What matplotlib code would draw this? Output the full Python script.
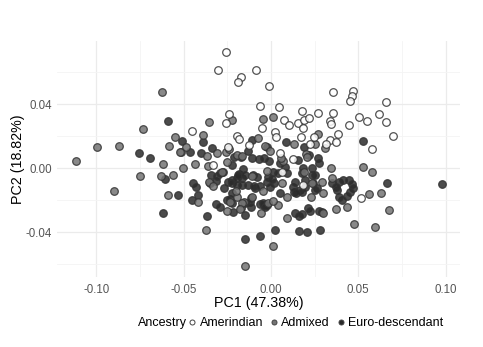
import numpy as np
import matplotlib
matplotlib.use('Agg')
import matplotlib.pyplot as plt
from matplotlib.lines import Line2D

plt.rcParams['font.family'] = ['Liberation Sans', 'DejaVu Sans']

# PCA scores (PC1, PC2)
amerindian = [
    (-0.0258, 0.0725), (-0.0304, 0.0613), (-0.0172, 0.0569), (-0.0189, 0.0538), (-0.0086, 0.0613),
    (-0.0011, 0.0513), (-0.0063, 0.0388), (-0.0241, 0.0338), (-0.0258, 0.0281), (-0.0052, 0.0250),
    (-0.0452, 0.0231), (-0.0195, 0.0200), (-0.0183, 0.0181), (-0.0246, 0.0131), (-0.0126, 0.0144),
    (0.0355, 0.0475), (0.0470, 0.0481), (0.0464, 0.0450), (0.0452, 0.0419), (0.0659, 0.0413),
    (0.0046, 0.0381), (0.0178, 0.0356), (0.0269, 0.0344), (0.0355, 0.0344), (0.0074, 0.0300),
    (0.0103, 0.0269), (0.0155, 0.0281), (0.0189, 0.0300), (0.0218, 0.0313), (0.0183, 0.0250),
    (0.0338, 0.0294), (0.0344, 0.0275), (0.0447, 0.0269), (0.0504, 0.0319), (0.0550, 0.0294),
    (0.0619, 0.0338), (0.0659, 0.0288), (0.0699, 0.0200), (0.0023, 0.0225), (0.0029, 0.0194),
    (0.0172, 0.0194), (0.0384, 0.0213), (0.0246, 0.0194), (0.0338, 0.0175), (0.0372, 0.0163),
    (0.0315, 0.0150), (0.0223, 0.0150), (0.0578, 0.0119), (-0.0332, 0.0019), (0.0052, 0.0094),
    (0.0126, 0.0056), (0.0063, -0.0025), (0.0183, -0.0106), (0.0515, -0.0188),
]

admixed = [
    (-0.0624, 0.0475), (-0.0223, 0.0300), (-0.0355, 0.0288), (-0.0046, 0.0306), (-0.0733, 0.0244),
    (-0.0389, 0.0206), (-0.0550, 0.0194), (-0.0074, 0.0188), (-0.0997, 0.0131), (-0.0871, 0.0138),
    (-0.0584, 0.0138), (-0.0034, 0.0138), (0.0011, 0.0319), (0.0269, 0.0213), (0.0252, 0.0150),
    (0.0132, 0.0150), (-0.1117, 0.0044), (-0.0750, -0.0050), (-0.0899, -0.0144), (-0.0619, 0.0025),
    (-0.0630, -0.0050), (-0.0561, -0.0044), (-0.0504, 0.0000), (-0.0515, 0.0100), (-0.0487, 0.0131),
    (-0.0435, 0.0025), (-0.0590, -0.0169), (-0.0418, -0.0213), (-0.0372, -0.0388), (-0.0149, -0.0613),
    (-0.0367, 0.0075), (-0.0361, 0.0013), (-0.0355, -0.0088), (-0.0332, -0.0113), (-0.0281, -0.0025),
    (-0.0309, 0.0094), (-0.0258, 0.0100), (-0.0252, 0.0038), (-0.0195, 0.0081), (-0.0241, 0.0119),
    (-0.0252, -0.0269), (-0.0235, -0.0213), (-0.0172, -0.0250), (-0.0155, -0.0213), (-0.0057, -0.0281),
    (-0.0017, -0.0219), (-0.0195, -0.0181), (-0.0046, -0.0144), (-0.0023, -0.0019), (0.0309, 0.0125),
    (-0.0006, 0.0106), (0.0200, 0.0088), (0.0069, 0.0044), (0.0189, -0.0025), (0.0344, 0.0000),
    (0.0527, 0.0006), (0.0578, -0.0025), (0.0349, -0.0063), (0.0561, -0.0163), (0.0630, -0.0156),
    (0.0676, -0.0263), (0.0435, -0.0244), (0.0372, -0.0256), (0.0475, -0.0350), (0.0596, -0.0369),
    (0.0011, -0.0488), (0.0092, -0.0313), (0.0229, -0.0181), (0.0298, -0.0156), (0.0092, -0.0181),
    (0.0040, -0.0231), (0.0011, -0.0206), (0.0298, -0.0281), (-0.0521, 0.0100), (-0.0166, 0.0075),
    (-0.0200, -0.0144), (-0.0109, -0.0050), (0.0235, -0.0094), (0.0292, -0.0088), (0.0063, -0.0094),
    (-0.0109, -0.0181), (-0.0166, -0.0219), (-0.0178, -0.0256), (0.0057, 0.0063), (0.0206, 0.0069),
]

euro = [
    (-0.0590, 0.0294), (-0.0510, 0.0169), (-0.0109, 0.0175), (-0.0389, 0.0163), (-0.0338, 0.0125),
    (0.0086, 0.0163), (-0.0023, 0.0131), (0.0189, 0.0131), (0.0527, 0.0169), (-0.0756, 0.0094),
    (-0.0693, 0.0063), (-0.0607, -0.0069), (-0.0533, -0.0169), (-0.0619, -0.0281), (-0.0447, -0.0094),
    (-0.0430, -0.0119), (-0.0452, -0.0200), (-0.0418, -0.0169), (-0.0367, -0.0300), (-0.0149, -0.0444),
    (-0.0063, -0.0425), (-0.0464, 0.0100), (-0.0401, 0.0094), (-0.0344, -0.0044), (-0.0315, -0.0081),
    (-0.0269, -0.0125), (-0.0223, 0.0019), (-0.0212, 0.0069), (-0.0315, -0.0225), (-0.0292, -0.0244),
    (-0.0252, -0.0200), (-0.0149, -0.0294), (-0.0115, -0.0188), (-0.0040, -0.0231), (-0.0166, -0.0063),
    (-0.0183, -0.0038), (-0.0223, -0.0075), (-0.0160, -0.0006), (-0.0172, 0.0069), (-0.0103, -0.0044),
    (-0.0080, -0.0056), (-0.0092, -0.0125), (-0.0132, 0.0106), (-0.0109, 0.0063), (-0.0069, 0.0056),
    (0.0218, 0.0081), (0.0155, 0.0050), (0.0269, 0.0063), (0.0275, 0.0031), (0.0052, 0.0031),
    (-0.0040, 0.0063), (-0.0011, 0.0044), (0.0080, 0.0006), (0.0011, -0.0025), (0.0092, -0.0031),
    (0.0183, 0.0000), (0.0235, 0.0000), (0.0235, -0.0044), (0.0664, -0.0094), (0.0979, -0.0100),
    (0.0349, -0.0094), (0.0389, -0.0088), (0.0412, -0.0075), (0.0447, -0.0075), (0.0464, -0.0100),
    (0.0470, -0.0125), (0.0452, -0.0150), (0.0435, -0.0175), (0.0407, -0.0200), (0.0389, -0.0181),
    (0.0378, -0.0138), (0.0372, -0.0119), (0.0023, -0.0388), (0.0160, -0.0394), (0.0206, -0.0400),
    (0.0281, -0.0388), (0.0137, -0.0281), (0.0160, -0.0300), (0.0178, -0.0288), (0.0212, -0.0250),
    (0.0223, -0.0269), (0.0275, -0.0269), (0.0263, -0.0125), (0.0241, -0.0094), (0.0166, -0.0138),
    (0.0132, -0.0150), (0.0126, -0.0119), (0.0052, -0.0156), (-0.0023, -0.0088), (0.0017, -0.0094),
    (-0.0349, -0.0094), (-0.0309, -0.0050), (-0.0292, -0.0031), (-0.0275, -0.0025), (-0.0223, -0.0219),
    (-0.0235, -0.0194), (-0.0246, -0.0088), (-0.0223, -0.0094), (-0.0195, -0.0063), (-0.0223, -0.0156),
    (-0.0218, -0.0275), (-0.0189, -0.0044), (-0.0149, -0.0044), (-0.0017, -0.0056), (0.0006, -0.0069),
    (0.0040, -0.0031), (0.0178, -0.0031), (0.0195, -0.0075), (0.0252, -0.0044), (-0.0195, -0.0106),
    (-0.0166, -0.0106), (-0.0132, -0.0106), (-0.0097, -0.0113), (-0.0063, -0.0113), (-0.0006, -0.0119),
    (0.0137, -0.0088), (0.0178, -0.0150), (0.0143, -0.0156), (0.0195, -0.0119), (0.0252, -0.0138),
    (-0.0149, -0.0219), (-0.0120, -0.0213), (-0.0063, -0.0225), (-0.0046, -0.0219), (-0.0023, -0.0231),
    (-0.0034, -0.0244), (-0.0115, -0.0244), (0.0292, -0.0275),
]

groups = ['Amerindian', 'Admixed', 'Euro-descendant']
fills = {'Amerindian': '#ffffff', 'Admixed': '#747474', 'Euro-descendant': '#2b2b2b'}
data = {'Amerindian': amerindian, 'Admixed': admixed, 'Euro-descendant': euro}

x_ticks = [-0.10, -0.05, 0.00, 0.05, 0.10]
y_ticks = [-0.04, 0.00, 0.04]

fig = plt.figure(figsize=(4.83, 3.47), dpi=100)
ax = fig.add_axes([0.119, 0.202, 0.834, 0.679])

# 描画順: 暗い方から
for g in ['Euro-descendant', 'Admixed', 'Amerindian']:
    pts = np.array(data[g])
    ax.scatter(pts[:, 0], pts[:, 1], s=30, c=fills[g], edgecolors='#333333',
               linewidths=0.9, alpha=0.85, zorder=3)

ax.margins(0.05)
ax.set_xticks(x_ticks)
ax.set_xticklabels([f'{v:.2f}' for v in x_ticks])
ax.set_yticks(y_ticks)
ax.set_yticklabels([f'{v:.2f}' for v in y_ticks])
ax.set_xticks([-0.075, -0.025, 0.025, 0.075], minor=True)
ax.set_yticks([-0.06, -0.02, 0.02, 0.06], minor=True)

ax.grid(True, which='major', color='#ebebeb', linewidth=0.9, zorder=0)
ax.grid(True, which='minor', color='#f4f4f4', linewidth=0.6, zorder=0)
for s in ax.spines.values():
    s.set_visible(False)
ax.tick_params(which='both', length=0)
ax.tick_params(axis='both', labelsize=8.3, labelcolor='#555555')
ax.tick_params(axis='x', pad=5)
ax.tick_params(axis='y', pad=4)

fig.text(259 / 483, 1 - 303 / 347, 'PC1 (47.38%)', ha='center', va='center', fontsize=10.3)
fig.text(18 / 483, 1 - 159 / 347, 'PC2 (18.82%)', ha='center', va='center', fontsize=10.3,
         rotation=90)

# 凡例
fig.text(138 / 483, 1 - 323 / 347, 'Ancestry', ha='left', va='center', fontsize=9)
handles = [Line2D([], [], marker='o', linestyle='', markersize=3.6, markerfacecolor=fills[g],
                  markeredgecolor='#444444', markeredgewidth=0.7) for g in groups]
fig.legend(handles, groups, loc='center left', bbox_to_anchor=(189 / 483, 1 - 323 / 347),
           ncol=3, frameon=False, fontsize=9, handlelength=0.5, handletextpad=0.35,
           columnspacing=0.6, borderpad=0, borderaxespad=0)

fig.savefig('out.png', dpi=100)
